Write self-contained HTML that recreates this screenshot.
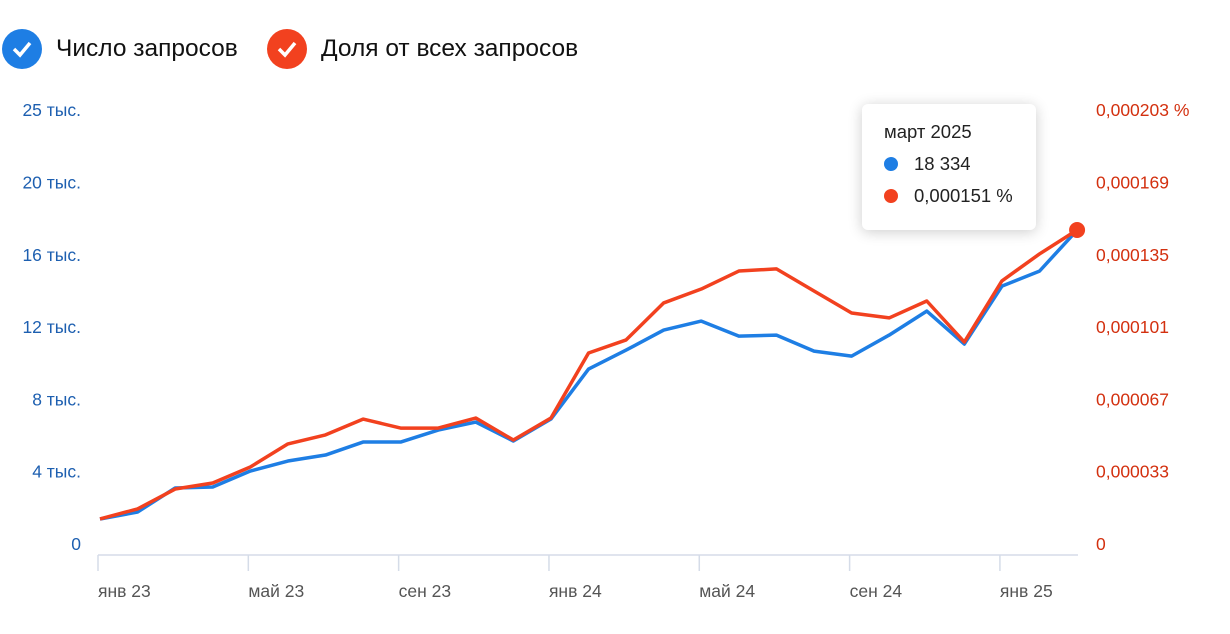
<!DOCTYPE html>
<html><head><meta charset="utf-8"><style>
body{margin:0;background:#fff;font-family:"Liberation Sans","DejaVu Sans",sans-serif;}
#wrap{position:relative;width:1230px;height:634px;overflow:hidden;}
.leg{position:absolute;top:29px;display:flex;align-items:center;font-size:24.5px;color:#111;}
.chk{width:40px;height:40px;border-radius:50%;margin-right:14px;display:flex;align-items:center;justify-content:center;}
#tip{position:absolute;left:862px;top:104px;width:174px;height:126px;background:#fff;border-radius:6px;box-shadow:0 2px 14px rgba(0,0,0,0.2);font-size:18.5px;color:#222;}
</style></head><body>
<div id="wrap">
<div class="leg" style="left:2px"><div class="chk" style="background:#1e7ee4"><svg width="22" height="18"><path d="M3 9 L9 15 L19 3" stroke="#fff" stroke-width="3.5" fill="none"/></svg></div>Число запросов</div>
<div class="leg" style="left:267px"><div class="chk" style="background:#f2411f"><svg width="22" height="18"><path d="M3 9 L9 15 L19 3" stroke="#fff" stroke-width="3.5" fill="none"/></svg></div>Доля от всех запросов</div>
<svg id="chart" width="1230" height="634" style="position:absolute;left:0;top:0"></svg>
<div id="tip">
<div style="position:absolute;left:22px;top:17px">март 2025</div>
<div style="position:absolute;left:22px;top:49px;display:flex;align-items:center"><span style="width:14px;height:14px;border-radius:50%;background:#1e7ee4;margin-right:16px"></span>18 334</div>
<div style="position:absolute;left:22px;top:81px;display:flex;align-items:center"><span style="width:14px;height:14px;border-radius:50%;background:#f2411f;margin-right:16px"></span>0,000151 %</div>
</div>
</div>
<script>
const months=["янв 23","фев 23","мар 23","апр 23","май 23","июн 23","июл 23","авг 23","сен 23","окт 23","ноя 23","дек 23","янв 24","фев 24","мар 24","апр 24","май 24","июн 24","июл 24","авг 24","сен 24","окт 24","ноя 24","дек 24","янв 25","фев 25","мар 25"];
const countValues=[1383,1770,3097,3152,4037,4590,4922,5641,5641,6304,6747,5696,6913,9678,10728,11834,12332,11502,11558,10673,10396,11558,12885,11060,14267,15097,17364];
const shareValues=[11.7,16.4,25.7,28.5,36.0,46.8,51.0,58.4,54.2,54.2,58.9,48.6,58.9,89.3,95.4,112.7,119.2,127.6,128.6,118.3,108.0,105.7,113.6,94.4,123.0,135.6,146.8];
const leftTicks=["0","4 тыс.","8 тыс.","12 тыс.","16 тыс.","20 тыс.","25 тыс."];
const rightTicks=["0","0,000033","0,000067","0,000101","0,000135","0,000169","0,000203 %"];
const xTickIdx=[0,4,8,12,16,20,24];
const NS="http://www.w3.org/2000/svg";
const svg=document.getElementById('chart');
const x0=100,dx=37.58,yb=544,step=72.3;
const xs=i=>x0+i*dx;
const yl=v=>yb-v*(step*6/24000);
const yr=v=>yb-v*(step/33.8);
function mk(t,a){const e=document.createElementNS(NS,t);for(const k in a)e.setAttribute(k,a[k]);svg.appendChild(e);return e;}
leftTicks.forEach((t,i)=>{const e=mk('text',{x:81,y:yb-i*step+6,'text-anchor':'end','font-size':17.5,fill:'#1d5fb0'});e.textContent=t;

});
rightTicks.forEach((t,i)=>{const e=mk('text',{x:1096,y:yb-i*step+6,'font-size':17.5,fill:'#d3300f'});e.textContent=t;

});
const ax=mk('line',{x1:98,x2:1078,y1:555,y2:555,stroke:'#d5dce8','stroke-width':1.5});


xTickIdx.forEach(i=>{const x=xs(i)-2;const l=mk('line',{x1:x,x2:x,y1:555,y2:571,stroke:'#d5dce8','stroke-width':1.5});


const t=mk('text',{x:x,y:597,'font-size':17.5,fill:'#555'});t.textContent=months[i];

});
const pb=mk('polyline',{points:countValues.map((v,i)=>xs(i)+','+yl(v)).join(' '),fill:'none',stroke:'#1e7ee4','stroke-width':3.5,'stroke-linejoin':'round'});


const pr=mk('polyline',{points:shareValues.map((v,i)=>xs(i)+','+yr(v)).join(' '),fill:'none',stroke:'#f2411f','stroke-width':3.5,'stroke-linejoin':'round'});


const n=shareValues.length-1;
const d=mk('circle',{cx:xs(n),cy:yr(shareValues[n]),r:8,fill:'#f2411f'});


</script>
</body></html>
